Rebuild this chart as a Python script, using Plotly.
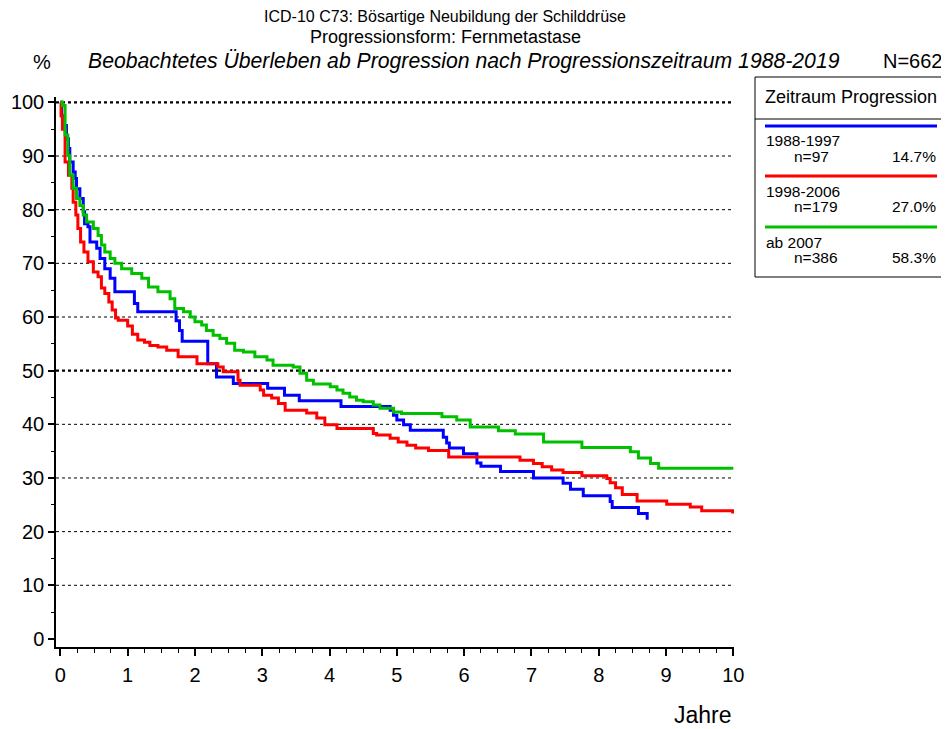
import plotly.graph_objects as go

# ---------------- data ----------------
series_names = ["1988-1997", "1998-2006", "ab 2007"]
series_n = ["n=97", "n=179", "n=386"]
series_pct = ["14.7%", "27.0%", "58.3%"]

blue_t = [0, 0.02, 0.04, 0.09, 0.12, 0.14, 0.19, 0.22, 0.24, 0.29, 0.34, 0.36, 0.41, 0.44,
          0.54, 0.59, 0.66, 0.74, 0.81, 1.10, 1.15, 1.72, 1.77, 1.81, 2.19, 2.32, 2.57,
          3.08, 3.33, 3.55, 4.17, 4.90, 4.95, 5.00, 5.10, 5.20, 5.69, 5.74, 5.78, 5.99,
          6.19, 6.25, 6.54, 7.03, 7.47, 7.58, 7.77, 8.17, 8.20, 8.59, 8.72]
blue_s = [100, 97.5, 95.7, 93.2, 91.4, 88.9, 87.0, 85.8, 83.9, 82.1, 79.6, 77.4, 76.8, 74.0,
          72.8, 70.9, 69.0, 67.2, 64.7, 62.5, 61.0, 59.3, 57.5, 55.5, 51.3, 48.8, 47.6,
          46.7, 45.4, 44.4, 43.3, 42.6, 41.7, 40.8, 39.9, 38.9, 37.6, 36.5, 35.6, 34.5,
          32.8, 32.2, 31.2, 30.0, 29.0, 27.9, 26.7, 25.6, 24.5, 23.4, 22.2]

red_t = [0, 0.01, 0.03, 0.07, 0.12, 0.17, 0.19, 0.23, 0.26, 0.30, 0.35, 0.41, 0.49, 0.56,
         0.61, 0.66, 0.72, 0.77, 0.82, 0.86, 1.00, 1.07, 1.15, 1.25, 1.33, 1.45, 1.58,
         1.75, 2.03, 2.34, 2.42, 2.64, 2.67, 2.97, 3.02, 3.14, 3.24, 3.34, 3.66, 3.81,
         3.93, 4.11, 4.65, 4.70, 4.90, 5.02, 5.15, 5.28, 5.47, 5.77, 6.83, 7.03, 7.16,
         7.30, 7.47, 7.75, 8.12, 8.17, 8.25, 8.35, 8.57, 9.01, 9.36, 9.53, 9.99]
red_s = [100, 97.5, 95.0, 88.9, 86.4, 84.0, 81.4, 79.0, 76.5, 74.0, 72.1, 70.3, 68.4, 67.5,
         65.4, 64.4, 62.8, 61.3, 59.8, 59.4, 58.3, 56.8, 55.7, 55.3, 54.7, 54.4, 53.8,
         52.6, 51.3, 50.7, 49.8, 48.2, 47.3, 46.4, 45.4, 44.9, 43.9, 42.6, 42.1, 41.2,
         39.9, 39.2, 38.3, 38.0, 37.4, 36.7, 36.1, 35.6, 35.1, 33.9, 33.3, 32.7, 32.1,
         31.5, 31.0, 30.4, 29.9, 29.1, 28.2, 26.9, 25.7, 25.1, 24.6, 23.9, 23.4]

green_t = [0, 0.03, 0.07, 0.11, 0.14, 0.19, 0.24, 0.29, 0.34, 0.39, 0.49, 0.56, 0.61, 0.66,
           0.74, 0.81, 0.91, 1.06, 1.21, 1.31, 1.45, 1.63, 1.70, 1.83, 1.93, 2.00, 2.10,
           2.17, 2.27, 2.37, 2.47, 2.59, 2.72, 2.89, 3.07, 3.16, 3.46, 3.56, 3.66, 3.76,
           4.01, 4.11, 4.20, 4.30, 4.40, 4.50, 4.65, 4.75, 4.95, 5.07, 5.67, 5.89, 6.09,
           6.51, 6.76, 7.18, 7.75, 8.47, 8.59, 8.77, 8.89, 10.0]
green_s = [100, 99.4, 93.9, 90.1, 86.4, 84.0, 82.1, 80.8, 79.0, 77.7, 76.5, 75.2, 73.4, 72.1,
           70.9, 70.0, 69.0, 68.1, 67.2, 65.6, 64.7, 63.4, 61.6, 61.0, 60.0, 59.1, 58.5,
           57.5, 56.6, 56.0, 55.1, 53.8, 53.5, 52.6, 52.0, 51.0, 50.7, 49.5, 48.2, 47.5,
           47.0, 46.4, 45.8, 45.1, 44.5, 44.2, 43.6, 43.0, 42.3, 42.0, 41.4, 40.8, 39.5,
           38.8, 38.2, 36.7, 35.7, 34.9, 33.7, 32.7, 31.8, 31.8]

x_ticks = list(range(0, 11))
y_ticks = list(range(0, 101, 10))
grid_levels = list(range(10, 101, 10))
strong_levels = [50, 100]

colors = ["#0000ff", "#ff0000", "#00c000"]

# ---------------- layout geometry (page pixels; page body has an 8px margin) ----------------
OFF = 8
W, H = 949 - OFF, 729 - OFF
P_L, P_R, P_T, P_B = 56, 734, 97, 647          # plot area in page pixels
ML, MR, MT, MB = P_L - OFF, 949 - P_R, P_T - OFF, 729 - P_B
PW, PH = P_R - P_L, P_B - P_T


def px(x):
    return (x - P_L) / PW


def py(y):
    return (P_B - y) / PH


FONT = "Liberation Sans, Arial, sans-serif"

fig = go.Figure()
for t, s, c, name in zip([blue_t, red_t, green_t], [blue_s, red_s, green_s], colors, series_names):
    fig.add_trace(go.Scatter(x=t, y=s, mode="lines", line=dict(color=c, width=3, shape="hv"),
                             name=name, showlegend=False))

shapes = []
for v in grid_levels:
    strong = v in strong_levels
    shapes.append(dict(type="line", xref="paper", yref="y", x0=0, x1=1, y0=v, y1=v,
                       line=dict(color="black", width=2.2 if strong else 1, dash="dot"),
                       layer="below"))

# legend box
shapes.append(dict(type="rect", xref="paper", yref="paper", x0=px(755), x1=px(945),
                   y0=py(277), y1=py(77), line=dict(color="black", width=1)))
shapes.append(dict(type="line", xref="paper", yref="paper", x0=px(755), x1=px(945),
                   y0=py(119), y1=py(119), line=dict(color="black", width=1)))

annotations = []
entry_y = [126, 176, 227]
for c, name, n, pct, ly in zip(colors, series_names, series_n, series_pct, entry_y):
    shapes.append(dict(type="line", xref="paper", yref="paper", x0=px(765), x1=px(937),
                       y0=py(ly), y1=py(ly), line=dict(color=c, width=3)))
    annotations.append(dict(text=name, xref="paper", yref="paper", x=px(764), y=py(ly + 15),
                            xanchor="left", yanchor="middle", showarrow=False,
                            font=dict(size=15.5, family=FONT, color="black")))
    annotations.append(dict(text=n, xref="paper", yref="paper", x=px(792), y=py(ly + 30),
                            xanchor="left", yanchor="middle", showarrow=False,
                            font=dict(size=15.5, family=FONT, color="black")))
    annotations.append(dict(text=pct, xref="paper", yref="paper", x=px(938), y=py(ly + 30),
                            xanchor="right", yanchor="middle", showarrow=False,
                            font=dict(size=15.5, family=FONT, color="black")))

annotations.append(dict(text="Zeitraum Progression", xref="paper", yref="paper", x=px(851),
                        y=py(97), xanchor="center", yanchor="middle", showarrow=False,
                        font=dict(size=18, family=FONT, color="black")))

# titles
annotations.append(dict(text="ICD-10 C73: Bösartige Neubildung der Schilddrüse", xref="paper",
                        yref="paper", x=px(445), y=py(17), xanchor="center", yanchor="middle",
                        showarrow=False, font=dict(size=16, family=FONT, color="black")))
annotations.append(dict(text="Progressionsform: Fernmetastase", xref="paper",
                        yref="paper", x=px(445), y=py(37), xanchor="center", yanchor="middle",
                        showarrow=False, font=dict(size=18, family=FONT, color="black")))
annotations.append(dict(text="<i>Beobachtetes Überleben ab Progression nach Progressionszeitraum 1988-2019</i>",
                        xref="paper", yref="paper", x=px(464), y=py(61), xanchor="center",
                        yanchor="middle", showarrow=False,
                        font=dict(size=21.2, family=FONT, color="black")))
annotations.append(dict(text="%", xref="paper", yref="paper", x=px(42), y=py(62),
                        xanchor="center", yanchor="middle", showarrow=False,
                        font=dict(size=20, family=FONT, color="black")))
annotations.append(dict(text="N=662", xref="paper", yref="paper", x=px(945), y=py(61),
                        xanchor="right", yanchor="middle", showarrow=False,
                        font=dict(size=20, family=FONT, color="black")))
annotations.append(dict(text="Jahre", xref="paper", yref="paper", x=px(734), y=py(715),
                        xanchor="right", yanchor="middle", showarrow=False,
                        font=dict(size=23, family=FONT, color="black")))

fig.update_layout(
    width=W, height=H, autosize=False,
    margin=dict(l=ML, r=MR, t=MT, b=MB, pad=0),
    paper_bgcolor="white", plot_bgcolor="white",
    shapes=shapes, annotations=annotations,
    font=dict(family=FONT, color="black"),
    xaxis=dict(range=[-0.065, 10.01], tickvals=x_ticks, ticktext=[str(v) for v in x_ticks],
               automargin=False,
               showgrid=False, zeroline=False, showline=True, linecolor="black", linewidth=1.5,
               ticks="outside", ticklen=7, tickwidth=1.5, tickcolor="black", ticklabelstandoff=2,
               tickfont=dict(size=20, family=FONT, color="black"),
               minor=dict(dtick=0.25, ticks="outside", ticklen=4, tickwidth=1, tickcolor="black",
                          showgrid=False)),
    yaxis=dict(range=[-1.5, 101], tickvals=y_ticks, ticktext=[str(v) for v in y_ticks],
               automargin=False,
               showgrid=False, zeroline=False, showline=True, linecolor="black", linewidth=1.5,
               ticks="outside", ticklen=6, tickwidth=1.5, tickcolor="black",
               tickfont=dict(size=20, family=FONT, color="black"),
               minor=dict(dtick=5, ticks="outside", ticklen=3, tickwidth=1, tickcolor="black",
                          showgrid=False)),
)

fig.write_html("out.html")
